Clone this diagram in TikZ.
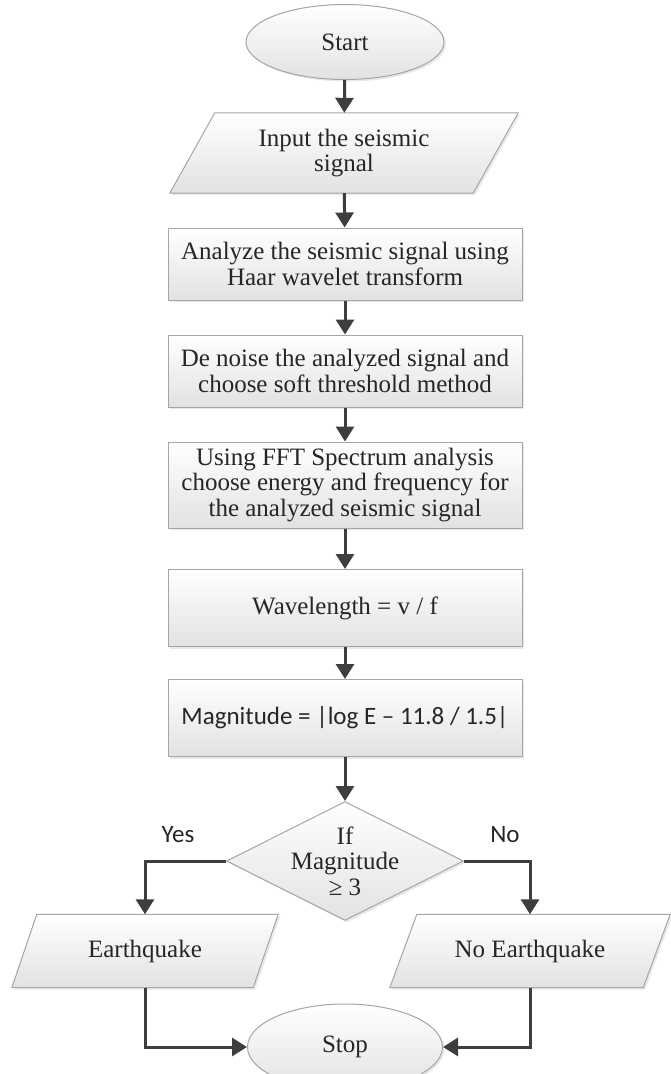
\documentclass[tikz,border=0pt]{standalone}
\usepackage{fontspec}
\setmainfont{Liberation Serif}
\newfontfamily\sansfont{Carlito}
\usetikzlibrary{arrows.meta,shapes.geometric,shadows,backgrounds,positioning}
\definecolor{FlowArrow}{RGB}{62,62,62}
\definecolor{FlowEdge}{RGB}{165,165,165}
\definecolor{FlowText}{RGB}{38,38,38}
\definecolor{FlowFill}{RGB}{226,226,226}

\tikzset{
  boxlook/.style={draw=FlowEdge,line width=1pt,top color=white,bottom color=FlowFill,
    drop shadow={shadow xshift=2pt,shadow yshift=-2pt,opacity=0.18}},
  boxtext/.style={text=FlowText,font=\fontsize{25}{25.5}\selectfont,align=center,inner sep=0pt},
  box/.style={boxlook,boxtext},
  proc/.style={box,rectangle,minimum width=354pt},
  io/.style={boxtext,rectangle},
  terminal/.style={box,ellipse},
  decision/.style={box,diamond,minimum width=237pt,minimum height=119pt},
  answer/.style={text=FlowText,font=\sansfont\fontsize{25}{26}\selectfont},
  flow/.style={-{Triangle[width=18pt,length=15pt]},line width=3pt,draw=FlowArrow}
}

\begin{document}
\begin{tikzpicture}[x=1pt,y=-1pt]
    \useasboundingbox (0,0) rectangle (670,1074);
    % main column
    \node[terminal,minimum width=198pt,minimum height=75pt] (start) at (345,42) {Start};
    \node[io,minimum width=348pt,minimum height=80pt] (input) at (344,153) {Input the seismic\\signal};
    \node[proc,minimum height=72pt] (haar) at (345,264) {Analyze the seismic signal using\\Haar wavelet transform};
    \node[proc,minimum height=72pt] (denoise) at (345,371) {De noise the analyzed signal and\\choose soft threshold method};
    \node[proc,minimum height=86pt] (fft) at (345,485) {Using FFT Spectrum analysis\\choose energy and frequency for\\the analyzed seismic signal};
    \node[proc,minimum height=77pt] (wave) at (345,608) {Wavelength = v / f};
    \node[proc,minimum height=77pt,font=\sansfont\fontsize{25}{26}\selectfont] (mag) at (345,718)
      {Magnitude = |log E – 11.8 / 1.5|};
    \node[decision,label={[boxtext]center:If\\Magnitude\\≥ 3}] (check) at (345,861) {};
    % branches
    \node[io,minimum width=266pt,minimum height=73pt] (quake) at (145,951) {Earthquake};
    \node[io,minimum width=280pt,minimum height=73pt] (noquake) at (530,951) {No Earthquake};
    \node[terminal,minimum width=195pt,minimum height=86pt] (stop) at (345,1047) {Stop};
    \node[answer] (yes) at (178,835) {Yes};
    \node[answer] (no) at (505,835) {No};

    % slanted input/output boxes
    \begin{scope}[on background layer]
      \path[boxlook] ([xshift=45pt]input.north west) -- (input.north east)
        -- ([xshift=-45pt]input.south east) -- (input.south west) -- cycle;
      \path[boxlook] ([xshift=25pt]quake.north west) -- (quake.north east)
        -- ([xshift=-25pt]quake.south east) -- (quake.south west) -- cycle;
      \path[boxlook] ([xshift=27pt]noquake.north west) -- (noquake.north east)
        -- ([xshift=-27pt]noquake.south east) -- (noquake.south west) -- cycle;
    \end{scope}

    \draw[flow] (start) -- (input);
    \draw[flow] (input) -- (haar);
    \draw[flow] (haar) -- (denoise);
    \draw[flow] (denoise) -- (fft);
    \draw[flow] (fft) -- (wave);
    \draw[flow] (wave) -- (mag);
    \draw[flow] (mag) -- (check);
    \draw[flow] (check.west) -| (quake);
    \draw[flow] (check.east) -| (noquake);
    \draw[flow] (quake) |- (stop.west);
    \draw[flow] (noquake) |- (stop.east);
\end{tikzpicture}
\end{document}
